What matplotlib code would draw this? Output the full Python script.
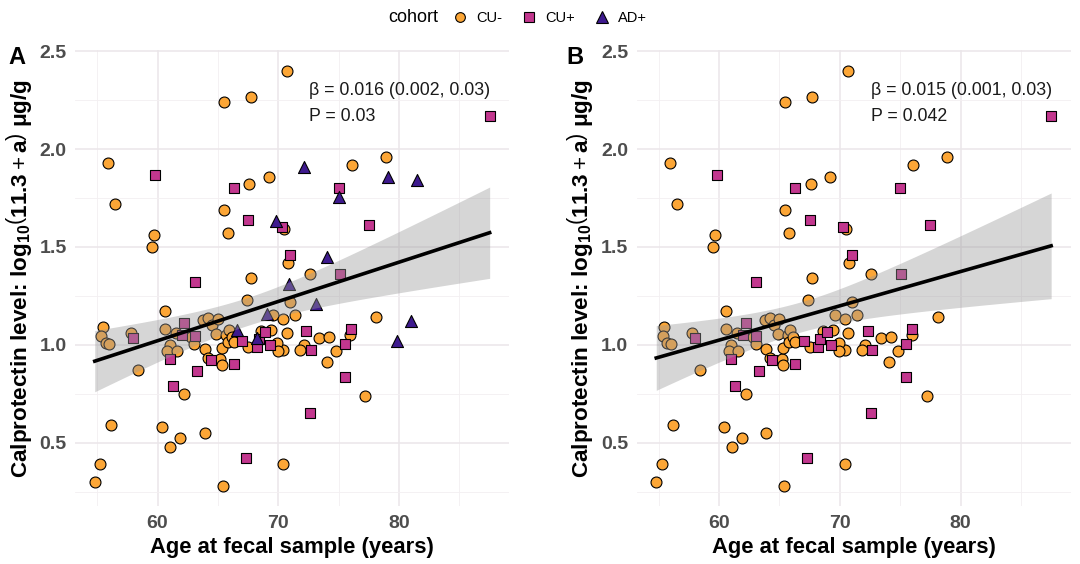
import numpy as np
import matplotlib
matplotlib.use("Agg")
import matplotlib.pyplot as plt
from matplotlib.lines import Line2D

plt.rcParams['font.family'] = ['Liberation Sans', 'DejaVu Sans']
plt.rcParams['mathtext.fontset'] = 'custom'
plt.rcParams['mathtext.rm'] = 'Liberation Sans'
plt.rcParams['mathtext.bf'] = 'Liberation Sans:bold'
plt.rcParams['mathtext.it'] = 'Liberation Sans:italic'

# --- data: (age, log10 calprotectin) ---
cu_neg_age = [70.7, 65.5, 67.7, 55.9, 69.2, 67.6, 56.5, 65.5, 70.5, 59.7, 59.5, 65.8,
              70.8, 67.7, 78.9, 76.1, 72.6, 78.1, 72.1, 73.4, 74.2, 75.95, 74.8, 74.05,
              77.2, 70.4, 67.4, 60.6, 69.6, 71.4, 70.4, 71.0, 70.7, 70.4, 71.8, 55.45,
              55.35, 55.7, 56.0, 57.8, 58.4, 60.6, 61.0, 60.8, 61.6, 61.5, 62.8, 63.05,
              63.8, 64.2, 64.55, 65.0, 64.85, 63.9, 64.2, 62.2, 65.2, 65.3, 65.3, 65.7,
              65.9, 65.8, 66.15, 66.3, 67.5, 68.6, 69.4, 69.9, 69.95, 56.15, 55.25, 54.8,
              60.4, 61.05, 61.9, 63.9, 65.4]
cu_neg_val = [2.40, 2.24, 2.265, 1.93, 1.86, 1.82, 1.72, 1.69, 1.59, 1.56, 1.50, 1.57,
              1.42, 1.34, 1.96, 1.92, 1.36, 1.14, 1.00, 1.035, 1.04, 1.05, 0.966, 0.91,
              0.74, 0.39, 1.23, 1.175, 1.15, 1.15, 1.13, 1.22, 1.06, 0.975, 0.975, 1.09,
              1.045, 1.01, 1.005, 1.06, 0.87, 1.08, 1.00, 0.966, 0.966, 1.06, 1.04, 1.005,
              1.125, 1.135, 1.10, 1.13, 1.055, 0.98, 0.934, 0.75, 0.93, 0.895, 0.985, 1.05,
              1.075, 1.015, 1.04, 1.015, 0.99, 1.07, 1.075, 1.01, 0.966, 0.59, 0.39, 0.30,
              0.58, 0.48, 0.525, 0.55, 0.28]

cu_pos_age = [59.8, 66.3, 67.5, 70.3, 71.0, 63.1, 87.5, 75.0, 77.5, 75.1, 72.3, 72.7,
              76.0, 75.5, 75.5, 72.6, 58.0, 61.0, 62.2, 62.0, 63.1, 64.4, 63.3, 61.3,
              66.3, 67.0, 68.2, 68.4, 68.9, 69.3, 67.3]
cu_pos_val = [1.87, 1.80, 1.64, 1.60, 1.46, 1.32, 2.17, 1.80, 1.615, 1.36, 1.07, 0.975,
              1.08, 1.005, 0.833, 0.65, 1.035, 0.93, 1.11, 1.05, 1.045, 0.92, 0.864, 0.79,
              0.90, 1.017, 0.99, 1.03, 1.067, 1.00, 0.42]

ad_pos_age = [72.1, 69.8, 79.1, 81.5, 75.0, 74.0, 73.1, 81.0, 79.8, 70.9, 69.1, 66.6, 68.2]
ad_pos_val = [1.91, 1.635, 1.86, 1.84, 1.755, 1.45, 1.21, 1.12, 1.02, 1.31, 1.16, 1.075, 1.035]

stats_a = ["β = 0.016 (0.002, 0.03)", "P = 0.03"]
stats_b = ["β = 0.015 (0.001, 0.03)", "P = 0.042"]

groups = [
    ("CU-", cu_neg_age, cu_neg_val, "o", "#FCA636", 62),
    ("CU+", cu_pos_age, cu_pos_val, "s", "#C2378E", 42),
    ("AD+", ad_pos_age, ad_pos_val, "^", "#3E1A8E", 75),
]

all_x = np.array(cu_neg_age + cu_pos_age + ad_pos_age)
all_y = np.array(cu_neg_val + cu_pos_val + ad_pos_val)
pad_x = 0.05 * (all_x.max() - all_x.min())
pad_y = 0.05 * (all_y.max() - all_y.min())
xlim = (all_x.min() - pad_x, all_x.max() + pad_x)
ylim = (all_y.min() - pad_y, all_y.max() + pad_y)

ylab = (r"Calprotectin level: log$_{\mathbf{10}}"
        r"\left(\mathbf{11.3}+\underset{\ }{\overset{\ }{\mathbf{a}}}\right)$ μg/g")


def lm_band(x, y, grid, t=1.98):
    X = np.column_stack([np.ones_like(x), x])
    beta = np.linalg.lstsq(X, y, rcond=None)[0]
    resid = y - X @ beta
    s2 = resid @ resid / (len(x) - 2)
    cov = s2 * np.linalg.inv(X.T @ X)
    G = np.column_stack([np.ones_like(grid), grid])
    fit = G @ beta
    se = np.sqrt(np.sum((G @ cov) * G, axis=1))
    return fit, fit - t * se, fit + t * se


def panel(ax, use, stats):
    xs, ys = [], []
    for name, ages, vals, mk, col, s in groups:
        if name not in use:
            continue
        ax.scatter(ages, vals, marker=mk, s=s, c=col, edgecolors="black",
                   linewidths=0.8, zorder=2)
        xs += ages
        ys += vals
    xs = np.array(xs)
    ys = np.array(ys)
    grid = np.linspace(xs.min(), xs.max(), 100)
    fit, lo, hi = lm_band(xs, ys, grid)
    ax.fill_between(grid, lo, hi, color="#999999", alpha=0.4, lw=0, zorder=3)
    ax.plot(grid, fit, color="black", lw=2.6, zorder=4)

    ax.set_xlim(xlim)
    ax.set_ylim(ylim)
    ax.set_xticks([60, 70, 80])
    ax.set_xticks([55, 65, 75, 85], minor=True)
    ax.set_yticks([0.5, 1.0, 1.5, 2.0, 2.5])
    ax.set_yticks([0.25, 0.75, 1.25, 1.75, 2.25], minor=True)
    ax.grid(which="major", color="#EBE6E9", lw=1.1, zorder=0)
    ax.grid(which="minor", color="#F3EFF1", lw=0.6, zorder=0)
    ax.set_axisbelow(True)
    for sp in ax.spines.values():
        sp.set_visible(False)
    ax.tick_params(which="both", length=0, pad=6)
    ax.tick_params(labelsize=14, labelcolor="#4D4D4D")
    for lab in ax.get_xticklabels() + ax.get_yticklabels():
        lab.set_fontweight("bold")

    ax.text(72.55, 2.30, stats[0], fontsize=12.8, color="#1A1A1A", va="center")
    ax.text(72.55, 2.165, stats[1], fontsize=12.8, color="#1A1A1A", va="center")

    ax.set_xlabel("Age at fecal sample (years)", fontsize=15.8, fontweight="bold", labelpad=4)
    ax.set_ylabel(ylab, fontsize=16.2, fontweight="bold", labelpad=4)


fig = plt.figure(figsize=(10.8, 5.64), dpi=100)
W, H = 1080, 564
bot = 1 - 506.4 / H
hgt = (506.4 - 50.2) / H
axA = fig.add_axes([75 / W, bot, (509.4 - 75) / W, hgt])
axB = fig.add_axes([636.5 / W, bot, (1070.9 - 636.5) / W, hgt])

panel(axA, ["CU-", "CU+", "AD+"], stats_a)
panel(axB, ["CU-", "CU+"], stats_b)

fig.text(8 / W, 1 - 58 / H, "A", fontsize=17, fontweight="bold", va="center")
fig.text(566 / W, 1 - 58 / H, "B", fontsize=17, fontweight="bold", va="center")

# legend
fig.text(413 / W, 1 - 18 / H, "cohort", fontsize=13, va="center", ha="center")
handles = [Line2D([], [], ls="", marker=mk, markersize=7 if mk != "^" else 8,
                  markerfacecolor=col, markeredgecolor="black", markeredgewidth=0.8,
                  label=name)
           for name, _, _, mk, col, _ in groups]
fig.legend(handles=handles, loc="center left", bbox_to_anchor=(453 / W, 1 - 18 / H),
           ncol=3, frameon=False, fontsize=10.5, handlelength=1.0, handletextpad=0.6,
           columnspacing=1.35, borderaxespad=0, borderpad=0)

fig.savefig("out.png", dpi=100)
